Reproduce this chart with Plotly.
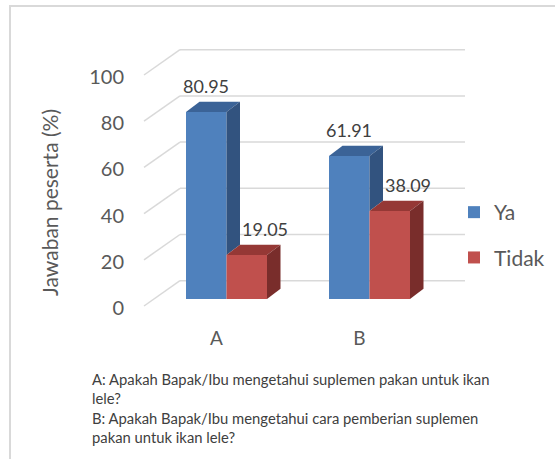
import plotly.graph_objects as go

# ---------------- data ----------------
categories = ["A", "B"]
series_names = ["Ya", "Tidak"]
ya_values = [80.95, 61.91]
tidak_values = [19.05, 38.09]
y_ticks = [0, 20, 40, 60, 80, 100]
y_title = "Jawaban peserta (%)"
notes = [
    "A: Apakah Bapak/Ibu mengetahui suplemen pakan untuk ikan<br>lele?",
    "B: Apakah Bapak/Ibu mengetahui cara pemberian suplemen<br>pakan untuk ikan lele?",
]

# ---------------- style / geometry ----------------
W_PX, H_PX = 555, 459
FONT = "Lato, Open Sans, sans-serif"
front_colors = ["#4F81BD", "#C0504D"]
top_colors = ["#3B6397", "#953835"]
side_colors = ["#32537F", "#792D2B"]
grid_color = "#D9D9D9"
axis_text = "#595959"
label_text = "#404040"

# pixel scale of the category / value axes
PX_PER_X = 143.0      # pixels per category step
X_CENTER0 = 226.5     # pixel x of first category centre
PX_PER_Y = 2.31       # pixels per value unit
Y_ZERO = 299.0        # pixel y of value 0 (bar plane)

PLOT_L, PLOT_R = 128.0, 555.0
PLOT_T, PLOT_B = 0.0, 325.0

def px2x(px):
    return (px - X_CENTER0) / PX_PER_X

def py2y(py):
    return (Y_ZERO - py) / PX_PER_Y

BAR_W = 40.5 / PX_PER_X           # bar width (category units)
DEPTH_X = 13.5 / PX_PER_X         # 3-D depth of bars
DEPTH_Y = 10.3 / PX_PER_Y
BACK_X0, BACK_X1 = px2x(180), px2x(465)   # back wall extent
BACK_DY = py2y(280.7)                      # back wall offset (value units)
FRONT_X = px2x(144)                        # front end of side-wall lines
FRONT_DY = py2y(306)

xs = list(range(len(categories)))
series = [ya_values, tidak_values]
offsets = [-BAR_W, 0.0]

fig = go.Figure()

# front faces as bars
for s, (name, vals) in enumerate(zip(series_names, series)):
    fig.add_trace(go.Bar(
        x=xs, y=vals, name=name, width=BAR_W, offset=offsets[s],
        marker=dict(color=front_colors[s], line=dict(width=0)),
        legendgroup=name, hoverinfo="x+y",
    ))

# top + side faces
for s, vals in enumerate(series):
    for i, v in enumerate(vals):
        x1 = xs[i] + offsets[s]
        x2 = x1 + BAR_W
        # top face
        fig.add_trace(go.Scatter(
            x=[x1, x2, x2 + DEPTH_X, x1 + DEPTH_X, x1],
            y=[v, v, v + DEPTH_Y, v + DEPTH_Y, v],
            fill="toself", fillcolor=top_colors[s], mode="lines",
            line=dict(width=0, color=top_colors[s]),
            showlegend=False, hoverinfo="skip",
        ))
        # side face (only part not hidden by the next bar)
        base = 0.0
        if s + 1 < len(series):
            base = min(series[s + 1][i], v)
        fig.add_trace(go.Scatter(
            x=[x2, x2 + DEPTH_X, x2 + DEPTH_X, x2, x2],
            y=[base, base + DEPTH_Y, v + DEPTH_Y, v, base],
            fill="toself", fillcolor=side_colors[s], mode="lines",
            line=dict(width=0, color=side_colors[s]),
            showlegend=False, hoverinfo="skip",
        ))

# gridlines on back wall and side wall
shapes = []
for t in y_ticks:
    shapes.append(dict(type="line", xref="x", yref="y", layer="below",
                       x0=BACK_X0, x1=BACK_X1, y0=t + BACK_DY, y1=t + BACK_DY,
                       line=dict(color=grid_color, width=1.5)))
    shapes.append(dict(type="line", xref="x", yref="y", layer="below",
                       x0=FRONT_X, x1=BACK_X0, y0=t + FRONT_DY, y1=t + BACK_DY,
                       line=dict(color=grid_color, width=1.5)))
# chart border
shapes.append(dict(type="rect", xref="paper", yref="paper",
                   x0=10 / W_PX, x1=1.05, y0=-0.05, y1=1 - 6 / H_PX,
                   line=dict(color=grid_color, width=2), fillcolor="rgba(0,0,0,0)"))

annotations = []
# data labels
label_dx = [0, 18]
for s, vals in enumerate(series):
    for i, v in enumerate(vals):
        annotations.append(dict(
            x=xs[i] + offsets[s] + BAR_W / 2, y=v, xref="x", yref="y",
            text=f"{v:.2f}", showarrow=False, xshift=label_dx[s], yshift=26,
            xanchor="center", yanchor="middle",
            font=dict(family=FONT, size=18, color=label_text)))
# y title
annotations.append(dict(
    x=49 / W_PX, y=1 - 203 / H_PX, xref="paper", yref="paper",
    text=y_title, textangle=-90, showarrow=False,
    xanchor="center", yanchor="middle",
    font=dict(family=FONT, size=21, color=axis_text)))
# footnotes
for k, (note, cy) in enumerate(zip(notes, [388, 427.5])):
    annotations.append(dict(
        x=90 / W_PX, y=1 - cy / H_PX, xref="paper", yref="paper",
        text=note, showarrow=False, align="left",
        xanchor="left", yanchor="middle",
        font=dict(family=FONT, size=14.8, color=label_text)))

fig.update_layout(
    width=W_PX, height=H_PX, autosize=False,
    margin=dict(l=0, r=0, t=0, b=0),
    paper_bgcolor="white", plot_bgcolor="rgba(0,0,0,0)",
    barmode="overlay",
    shapes=shapes, annotations=annotations,
    showlegend=True,
    legend=dict(x=454 / W_PX, y=1 - 192 / H_PX, xanchor="left", yanchor="top",
                font=dict(family=FONT, size=21, color=axis_text),
                traceorder="grouped", tracegroupgap=15,
                bgcolor="rgba(0,0,0,0)"),
    xaxis=dict(domain=[PLOT_L / W_PX, 1], range=[px2x(PLOT_L), px2x(PLOT_R)],
               tickmode="array", tickvals=xs, ticktext=categories,
               showgrid=False, zeroline=False, showline=False, ticks="",
               ticklabelshift=-10,
               tickfont=dict(family=FONT, size=19, color=axis_text)),
    yaxis=dict(domain=[1 - PLOT_B / H_PX, 1 - PLOT_T / H_PX],
               range=[py2y(PLOT_B), py2y(PLOT_T)],
               tickmode="array", tickvals=y_ticks,
               showgrid=False, zeroline=False, showline=False, ticks="",
               ticklabelshift=9, ticklabelstandoff=3,
               tickfont=dict(family=FONT, size=20, color=axis_text)),
)

fig.write_html("out.html", config={"displayModeBar": False},
               post_script="document.body.style.margin='0';")
